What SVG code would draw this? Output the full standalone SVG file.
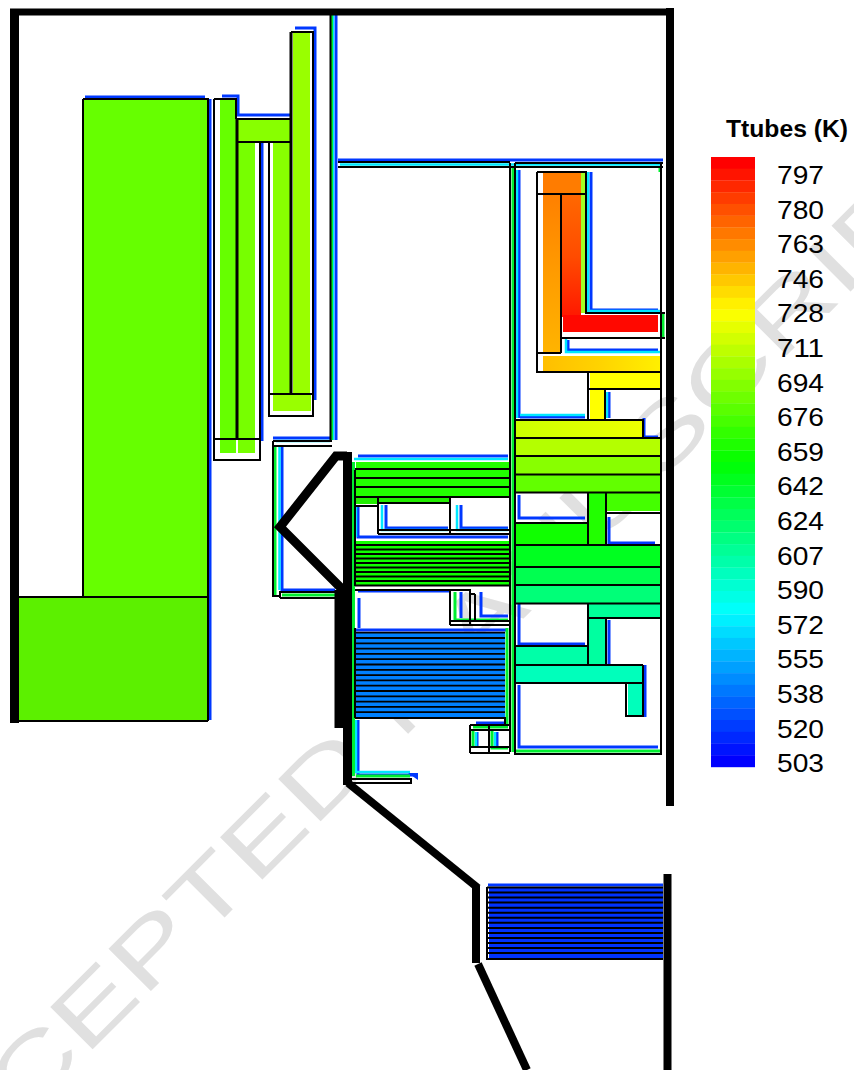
<svg xmlns="http://www.w3.org/2000/svg" width="854" height="1070" viewBox="0 0 854 1070">
<defs>
<linearGradient id="orL" x1="0" y1="0" x2="0" y2="1"><stop offset="0" stop-color="#ff8000"/><stop offset="0.5" stop-color="#ff9c00"/><stop offset="1" stop-color="#ffb400"/></linearGradient>
<linearGradient id="orR" x1="0" y1="0" x2="0" y2="1"><stop offset="0" stop-color="#ff6800"/><stop offset="0.5" stop-color="#ff4c00"/><stop offset="1" stop-color="#ff1800"/></linearGradient>
<linearGradient id="gold" x1="0" y1="0" x2="1" y2="0"><stop offset="0" stop-color="#ffbe00"/><stop offset="0.5" stop-color="#ffd400"/><stop offset="1" stop-color="#fff000"/></linearGradient>
<linearGradient id="lime" x1="0" y1="0" x2="1" y2="0"><stop offset="0" stop-color="#ccff00"/><stop offset="1" stop-color="#eeff00"/></linearGradient>
</defs>
<style>
text{font-family:"Liberation Sans",Arial,sans-serif}
.wm{font-size:87px;fill:#e0e0e0}
.t{font-size:25.5px;fill:#000}
.h{font-size:24.5px;font-weight:bold;fill:#000}
.w{fill:none;stroke:#000;stroke-width:9;stroke-linejoin:miter}
.l{fill:none;stroke:#000;stroke-width:2}
.k{fill:none;stroke:#000;stroke-width:3}
.s{fill:none;stroke:#000;stroke-width:1.8}
.b{fill:none;stroke:#0038ff;stroke-width:3}
.c{fill:none;stroke:#00e8ff;stroke-width:2.5}
.g{fill:none;stroke:#00ee30;stroke-width:3}
</style>
<rect width="854" height="1070" fill="#fff"/>
<text class="wm" transform="translate(-99 1241) rotate(-45) scale(1.42 1)">ACCEPTED MANUSCRIPT</text>

<g id="colorbar"><rect x="711" y="157" width="44" height="12" fill="hsl(0,100%,50%)"/><rect x="711" y="168.7" width="44" height="12" fill="hsl(4.7,100%,50%)"/><rect x="711" y="180.5" width="44" height="12" fill="hsl(9.4,100%,50%)"/><rect x="711" y="192.2" width="44" height="12" fill="hsl(14.1,100%,50%)"/><rect x="711" y="203.9" width="44" height="12" fill="hsl(18.8,100%,50%)"/><rect x="711" y="215.7" width="44" height="12" fill="hsl(23.5,100%,50%)"/><rect x="711" y="227.4" width="44" height="12" fill="hsl(28.2,100%,50%)"/><rect x="711" y="239.1" width="44" height="12" fill="hsl(32.9,100%,50%)"/><rect x="711" y="250.8" width="44" height="12" fill="hsl(37.6,100%,50%)"/><rect x="711" y="262.6" width="44" height="12" fill="hsl(42.4,100%,50%)"/><rect x="711" y="274.3" width="44" height="12" fill="hsl(47.1,100%,50%)"/><rect x="711" y="286" width="44" height="12" fill="hsl(51.8,100%,50%)"/><rect x="711" y="297.8" width="44" height="12" fill="hsl(56.5,100%,50%)"/><rect x="711" y="309.5" width="44" height="12" fill="hsl(61.2,100%,50%)"/><rect x="711" y="321.2" width="44" height="12" fill="hsl(65.9,100%,50%)"/><rect x="711" y="333" width="44" height="12" fill="hsl(70.6,100%,50%)"/><rect x="711" y="344.7" width="44" height="12" fill="hsl(75.3,100%,50%)"/><rect x="711" y="356.4" width="44" height="12" fill="hsl(80,100%,50%)"/><rect x="711" y="368.1" width="44" height="12" fill="hsl(84.7,100%,50%)"/><rect x="711" y="379.9" width="44" height="12" fill="hsl(89.4,100%,50%)"/><rect x="711" y="391.6" width="44" height="12" fill="hsl(94.1,100%,50%)"/><rect x="711" y="403.3" width="44" height="12" fill="hsl(98.8,100%,50%)"/><rect x="711" y="415.1" width="44" height="12" fill="hsl(103.5,100%,50%)"/><rect x="711" y="426.8" width="44" height="12" fill="hsl(108.2,100%,50%)"/><rect x="711" y="438.5" width="44" height="12" fill="hsl(112.9,100%,50%)"/><rect x="711" y="450.3" width="44" height="12" fill="hsl(117.6,100%,50%)"/><rect x="711" y="462" width="44" height="12" fill="hsl(122.4,100%,50%)"/><rect x="711" y="473.7" width="44" height="12" fill="hsl(127.1,100%,50%)"/><rect x="711" y="485.4" width="44" height="12" fill="hsl(131.8,100%,50%)"/><rect x="711" y="497.2" width="44" height="12" fill="hsl(136.5,100%,50%)"/><rect x="711" y="508.9" width="44" height="12" fill="hsl(141.2,100%,50%)"/><rect x="711" y="520.6" width="44" height="12" fill="hsl(145.9,100%,50%)"/><rect x="711" y="532.4" width="44" height="12" fill="hsl(150.6,100%,50%)"/><rect x="711" y="544.1" width="44" height="12" fill="hsl(155.3,100%,50%)"/><rect x="711" y="555.8" width="44" height="12" fill="hsl(160,100%,50%)"/><rect x="711" y="567.6" width="44" height="12" fill="hsl(164.7,100%,50%)"/><rect x="711" y="579.3" width="44" height="12" fill="hsl(169.4,100%,50%)"/><rect x="711" y="591" width="44" height="12" fill="hsl(174.1,100%,50%)"/><rect x="711" y="602.7" width="44" height="12" fill="hsl(178.8,100%,50%)"/><rect x="711" y="614.5" width="44" height="12" fill="hsl(183.5,100%,50%)"/><rect x="711" y="626.2" width="44" height="12" fill="hsl(188.2,100%,50%)"/><rect x="711" y="637.9" width="44" height="12" fill="hsl(192.9,100%,50%)"/><rect x="711" y="649.7" width="44" height="12" fill="hsl(197.6,100%,50%)"/><rect x="711" y="661.4" width="44" height="12" fill="hsl(202.4,100%,50%)"/><rect x="711" y="673.1" width="44" height="12" fill="hsl(207.1,100%,50%)"/><rect x="711" y="684.9" width="44" height="12" fill="hsl(211.8,100%,50%)"/><rect x="711" y="696.6" width="44" height="12" fill="hsl(216.5,100%,50%)"/><rect x="711" y="708.3" width="44" height="12" fill="hsl(221.2,100%,50%)"/><rect x="711" y="720" width="44" height="12" fill="hsl(225.9,100%,50%)"/><rect x="711" y="731.8" width="44" height="12" fill="hsl(230.6,100%,50%)"/><rect x="711" y="743.5" width="44" height="12" fill="hsl(235.3,100%,50%)"/><rect x="711" y="755.2" width="44" height="12" fill="hsl(240,100%,50%)"/></g>
<g id="legend-text">
<text class="h" x="726" y="137" textLength="122" lengthAdjust="spacingAndGlyphs">Ttubes (K)</text>
<g class="t">
<text class="t" x="777" y="184" textLength="47" lengthAdjust="spacingAndGlyphs">797</text>
<text class="t" x="777" y="218.6" textLength="47" lengthAdjust="spacingAndGlyphs">780</text>
<text class="t" x="777" y="253.2" textLength="47" lengthAdjust="spacingAndGlyphs">763</text>
<text class="t" x="777" y="287.8" textLength="47" lengthAdjust="spacingAndGlyphs">746</text>
<text class="t" x="777" y="322.4" textLength="47" lengthAdjust="spacingAndGlyphs">728</text>
<text class="t" x="777" y="357" textLength="47" lengthAdjust="spacingAndGlyphs">711</text>
<text class="t" x="777" y="391.6" textLength="47" lengthAdjust="spacingAndGlyphs">694</text>
<text class="t" x="777" y="426.2" textLength="47" lengthAdjust="spacingAndGlyphs">676</text>
<text class="t" x="777" y="460.8" textLength="47" lengthAdjust="spacingAndGlyphs">659</text>
<text class="t" x="777" y="495.4" textLength="47" lengthAdjust="spacingAndGlyphs">642</text>
<text class="t" x="777" y="530" textLength="47" lengthAdjust="spacingAndGlyphs">624</text>
<text class="t" x="777" y="564.6" textLength="47" lengthAdjust="spacingAndGlyphs">607</text>
<text class="t" x="777" y="599.2" textLength="47" lengthAdjust="spacingAndGlyphs">590</text>
<text class="t" x="777" y="633.8" textLength="47" lengthAdjust="spacingAndGlyphs">572</text>
<text class="t" x="777" y="668.4" textLength="47" lengthAdjust="spacingAndGlyphs">555</text>
<text class="t" x="777" y="703" textLength="47" lengthAdjust="spacingAndGlyphs">538</text>
<text class="t" x="777" y="737.6" textLength="47" lengthAdjust="spacingAndGlyphs">520</text>
<text class="t" x="777" y="772.2" textLength="47" lengthAdjust="spacingAndGlyphs">503</text>
</g></g>

<g id="halos">
<path class="b" d="M85 97H205M210 99V720M222 96H238V115H290M295 28H315V400M262 142V441M336 12V440M273 438H330M282 447V590H335M338 160H663M519 170V418M591 172V310H658M568 340V350H658M520 417H585M609 392V418M644 418V437H658"/>
<path class="b" d="M358 456H508M358 505V537H508M386 505V528H448M461 505V528H508M358 591H450M359 598V628M356 630H506M358 720V775H415M461 592V618M481 592V616H508M476 723H508M477 732V746M497 732V746M519 495V518H585M609 517V543H655M519 604V644H585M609 620V664M645 665V717M519 685V747H658M488 885H663"/>
<path class="c" d="M333 12V440M276 441H330M279.500 447V590M340 164.500H661M517 170V418M588 172V311H660M566 338V352H660M520 415H585M607 392V418M354 459H508M382 505V530H448M457 505V530H508M356 505V537M356 720V772H410M476 732V746M495 732V746"/>
<path class="g" d="M331.500 12V440M275 446V595M513 168V752M516 751H660M353.500 462V776M507 628V725H508M356 776H410M660 168V172M455 592V620H508M282 595H335M473 727H508M473 730V748M492 730V748H508M663 314V337"/>
<path d="M408 773L418 773L418 780Z" fill="#0038ff"/>
</g>

<g id="fills">
<rect x="84" y="99" width="124" height="498" fill="#66ff00"/>
<rect x="18" y="597" width="190" height="124" fill="#5cf000"/>
<rect x="220" y="100" width="16" height="353" fill="#66ff00"/>
<rect x="238" y="142" width="17" height="311" fill="#77ff00"/>
<rect x="238" y="120" width="52" height="22" fill="#88ff00"/>
<rect x="273" y="142" width="17" height="252" fill="#88ff00"/>
<rect x="293" y="33" width="17" height="361" fill="#99ff00"/>
<rect x="273" y="394" width="38" height="17" fill="#99ff00"/>
<rect x="581" y="173" width="5" height="140" fill="#a4ff20"/>
<rect x="543" y="173" width="38" height="22" fill="#ff7c00"/>
<rect x="543" y="195" width="18" height="158" fill="url(#orL)"/>
<rect x="562" y="195" width="19" height="122" fill="url(#orR)"/>
<rect x="563" y="315" width="95" height="17" fill="#ff0800"/>
<rect x="543" y="356" width="117" height="15" fill="url(#gold)"/>
<rect x="590" y="373" width="70" height="15" fill="#ffff00"/>
<rect x="590" y="390" width="15" height="30" fill="#ffff00"/>
<rect x="516" y="421" width="127" height="17" fill="url(#lime)"/>
<rect x="516" y="439" width="145" height="17" fill="#b4ff00"/>
<rect x="516" y="457" width="145" height="17" fill="#88ff00"/>
<rect x="516" y="475" width="145" height="17" fill="#62ff00"/>
<rect x="589" y="493" width="17" height="52" fill="#22ff00"/>
<rect x="606" y="493" width="55" height="18" fill="#44ff00"/>
<rect x="516" y="524" width="72" height="21" fill="#10ff00"/>
<rect x="516" y="546" width="145" height="21" fill="#00ff20"/>
<rect x="516" y="568" width="145" height="17" fill="#00ff50"/>
<rect x="516" y="586" width="145" height="17" fill="#00ff78"/>
<rect x="589" y="604" width="72" height="14" fill="#00ff98"/>
<rect x="589" y="619" width="17" height="46" fill="#00ffa0"/>
<rect x="516" y="647" width="72" height="18" fill="#00ffa8"/>
<rect x="516" y="666" width="127" height="17" fill="#00ffbb"/>
<rect x="628" y="684" width="15" height="32" fill="#00ffbb"/>
<rect x="356" y="462" width="154" height="35" fill="#22ff00"/>
<rect x="356" y="497" width="94" height="7" fill="#22ee00"/>
<rect x="356" y="541" width="154" height="45" fill="#10ff00"/>
<rect x="356" y="632" width="149" height="86" fill="#0080ff"/>
<rect x="489" y="888" width="174" height="70" fill="#0033ff"/>
</g>

<g id="outlines">
<path class="l" d="M83 99H208V721M83 99V597M18 597H208M18 721H208"/>
<path class="l" d="M214 99H236V119M214 99V460H260V142M213 439H260"/>
<path class="k" d="M237 119V439"/>
<path class="l" d="M237 119H291M237 142H291"/>
<path class="l" d="M291 32H313V416H269V142M269 394H313"/>
<path class="k" d="M291 32V394"/>
<path class="l" d="M273 441H332M273 446H332M273 441V596H279M280 598V592H335M280 598H335"/>
<path class="l" d="M338 162H510M338 167H663M510 163V752M515 163V754H661V163M515 163H663"/>
<path class="l" d="M537 172H586V313H665M537 172V372H660M537 194H586M561 194V353M537 353H561M561 313V338H665M588 372V420M605 389V420M588 389H660M515 420H643V438M515 438H661"/>
<path class="l" d="M515 456H661M515 474.500H661M515 492.500H661M588 492V545M606 492V545M606 513H661M515 523H588M515 545H661M515 567H661M515 585H661M515 603.500H661M588 603V665M588 618H661M606 618V665M515 646H588M515 665H643M515 683H643M643 665V716H626V683"/>
<path class="l" d="M355 470V586M355 469H510M355 478H510M355 487H510M355 497H510M355 506H378M378 498V534M450 498V534M378 503H450M378 530H510M378 534H510"/>
<path class="s" d="M355 545H510M355 549.500H510M355 554H510M355 558.500H510M355 563H510M355 567.500H510M355 572H510M355 576.500H510M355 581H510"/>
<path class="l" d="M355 585.500H510M355 590H470V625"/>
<path class="l" d="M450 590V625M475 594V620M450 621H510M450 625H510M470 594H475"/>
<path class="s" d="M355 632.700H505M355 638H505M355 643.300H505M355 648.600H505M355 653.900H505M355 659.200H505M355 664.500H505M355 669.800H505M355 675.100H505M355 680.400H505M355 685.700H505M355 691H505M355 696.300H505M355 701.600H505M355 706.900H505M355 712.200H505"/>
<path class="l" d="M355 718H505V725M355 628V718"/>
<path class="l" d="M470 725H510M470 730H510M470 747H510M470 753H510M470 725V753M489 725V753"/>
<path class="l" d="M352 779H411V783H350"/>
<path class="l" d="M487 887.500H663M487 892.500H663M487 897.600H663M487 902.600H663M487 907.700H663M487 912.700H663M487 917.800H663M487 922.800H663M487 927.900H663M487 932.900H663M487 938H663M487 943H663M487 948H663M487 953H663M487 959H663M487 887V960"/>
</g>

<g id="walls">
<path class="w" d="M14.500 10V723"/>
<path class="w" d="M10 12H671" style="stroke-width:7"/>
<path class="w" d="M670 8V806" style="stroke-width:8"/>
<path class="l" d="M330.500 10V441"/>
<path class="w" d="M347.500 452V785M339 590V728"/>
<path class="w" d="M347 456H336L280 527L345 592"/>
<path class="w" d="M348 783L478 888" style="stroke-width:8"/>
<path class="w" d="M476 886V963" style="stroke-width:8"/>
<path class="w" d="M478 964L527 1070" style="stroke-width:8"/>
<path class="w" d="M667.500 874V1070" style="stroke-width:8"/>
</g>
</svg>
